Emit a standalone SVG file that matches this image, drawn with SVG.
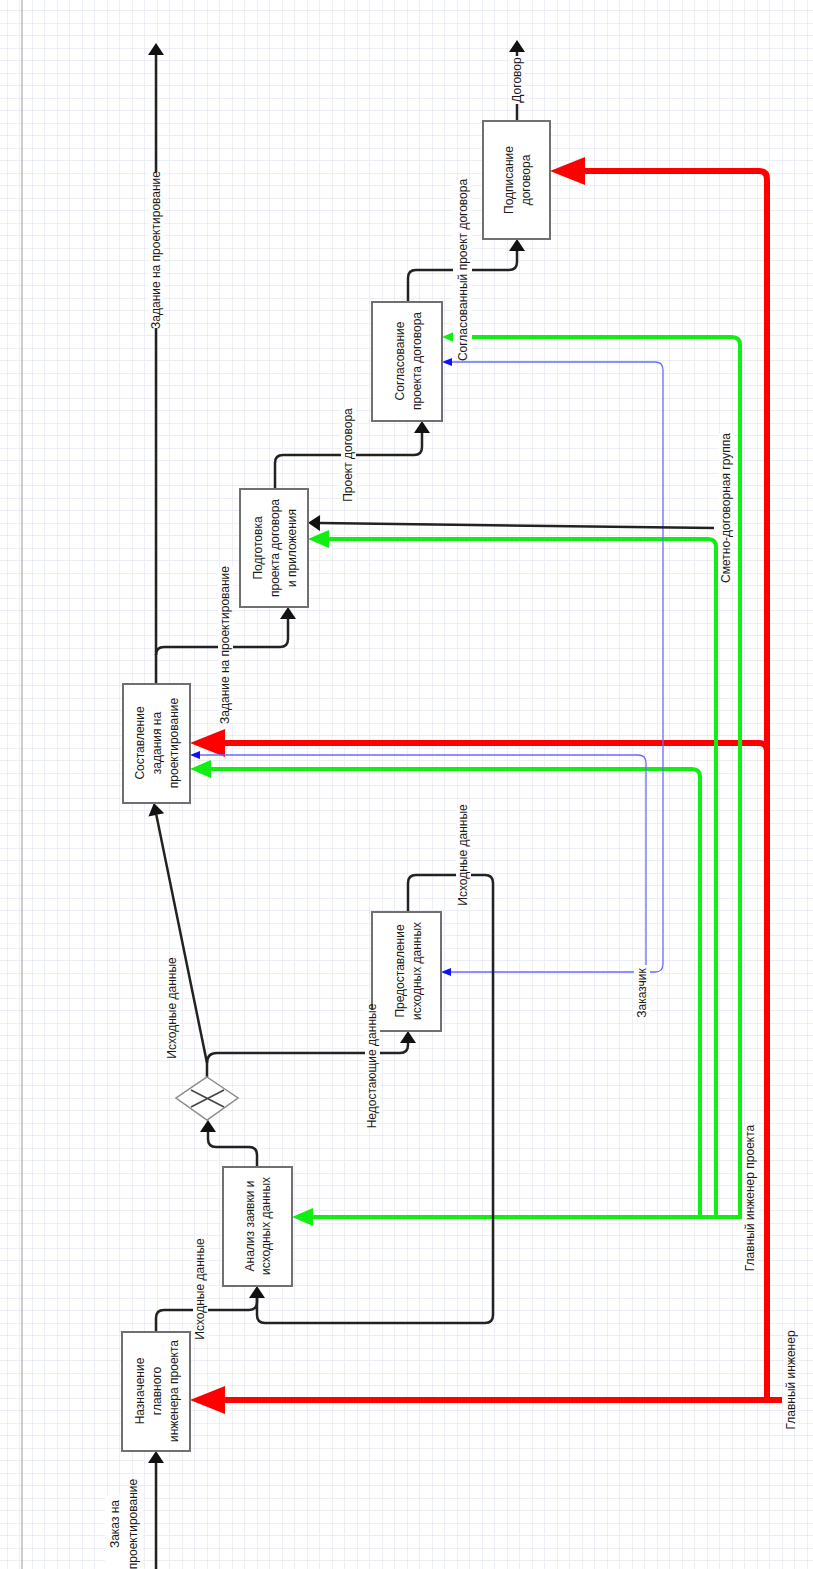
<svg xmlns="http://www.w3.org/2000/svg" width="813" height="1569" viewBox="0 0 813 1569">
<style>
.t{font-family:"Liberation Sans",Arial,sans-serif;font-size:12px;fill:#1a1a1a;text-anchor:middle;dominant-baseline:central}
.node{fill:#ffffff;stroke:#707070;stroke-width:2}
.k{fill:none;stroke:#222;stroke-width:2.5}
.r{fill:none;stroke:#ff0000;stroke-width:6}
.g{fill:none;stroke:#11ee11;stroke-width:4}
.b{fill:none;stroke:#6a6aff;stroke-width:1.3}
.bg{fill:#ffffff}
</style>
<defs>
<pattern id="grid" patternUnits="userSpaceOnUse" x="7" y="-2" width="25" height="25">
<path d="M12.5,0 V25 M0,12.5 H25" stroke="#eceef6" stroke-width="1" fill="none"/>
<path d="M0,0 V25 M0,0 H25" stroke="#dfe2ee" stroke-width="1" fill="none"/>
</pattern>
<marker id="ak" markerUnits="userSpaceOnUse" markerWidth="14" markerHeight="18" viewBox="0 -9 14 18" refX="0" refY="0" orient="auto" overflow="visible"><path d="M0,-8 L12,0 L0,8 z" fill="#111"/></marker>
<marker id="ar" markerUnits="userSpaceOnUse" markerWidth="36" markerHeight="30" viewBox="0 -15 36 30" refX="0" refY="0" orient="auto" overflow="visible"><path d="M0,-14 L35,0 L0,14 z" fill="#ff0000"/></marker>
<marker id="ag" markerUnits="userSpaceOnUse" markerWidth="22" markerHeight="20" viewBox="0 -10 22 20" refX="0" refY="0" orient="auto" overflow="visible"><path d="M0,-9 L21,0 L0,9 z" fill="#11ee11"/></marker>
<marker id="ab" markerUnits="userSpaceOnUse" markerWidth="11" markerHeight="10" viewBox="0 -5 11 10" refX="0" refY="0" orient="auto" overflow="visible"><path d="M0,-4 L10,0 L0,4 z" fill="#1010ff"/></marker>
</defs>
<rect x="0" y="0" width="813" height="1569" fill="#ffffff"/>
<rect x="0" y="0" width="813" height="1569" fill="url(#grid)"/>
<line x1="22" y1="0" x2="22" y2="1569" stroke="#9a9a9a" stroke-width="1"/>

<g id="connectors">
<path class="r" d="M767,1400 V179 Q767,171 759,171 H585" marker-end="url(#ar)"/>
<path class="r" d="M767,751 Q767,743 759,743 H225" marker-end="url(#ar)"/>
<path class="r" d="M782,1400 H225" marker-end="url(#ar)"/>
<path class="g" d="M740,1217 V345 Q740,337 732,337 H463" marker-end="url(#ag)"/>
<path class="g" d="M716,1217 V547 Q716,539 708,539 H329" marker-end="url(#ag)"/>
<path class="g" d="M700,1217 V777 Q700,769 692,769 H211" marker-end="url(#ag)"/>
<path class="g" d="M742,1217 H313" marker-end="url(#ag)"/>
<path class="b" d="M663,964 V370 Q663,362 655,362 H452" marker-end="url(#ab)"/>
<path class="b" d="M646,972 V763 Q646,755 638,755 H200" marker-end="url(#ab)"/>
<path class="b" d="M663,964 Q663,972 655,972 H451" marker-end="url(#ab)"/>
<path class="k" d="M156,1569 V1463" marker-end="url(#ak)"/>
<path class="k" d="M156,1332 V1318 Q156,1310 164,1310 H249 Q257,1310 257,1302 V1298" marker-end="url(#ak)"/>
<path class="k" d="M408,912 V883 Q408,875 416,875 H485 Q493,875 493,883 V1315 Q493,1323 485,1323 H265 Q257,1323 257,1315 V1298"/>
<path class="k" d="M257,1167 V1155 Q257,1147 249,1147 H216 Q208,1147 208,1139 V1132" marker-end="url(#ak)"/>
<path class="k" d="M207,1077 V1063 L156.3,814.8" marker-end="url(#ak)"/>
<path class="k" d="M207,1063 Q207,1053 217,1053 H400 Q408,1053 408,1045 V1043" marker-end="url(#ak)"/>
<path class="k" d="M156,684 V55" marker-end="url(#ak)"/>
<path class="k" d="M156,655 Q156,647 164,647 H280 Q288,647 288,639 V619" marker-end="url(#ak)"/>
<path class="k" d="M275,489 V463 Q275,455 283,455 H414 Q422,455 422,447 V433" marker-end="url(#ak)"/>
<path class="k" d="M408,302 V278 Q408,270 416,270 H509 Q517,270 517,262 V251" marker-end="url(#ak)"/>
<path class="k" d="M517,121 V52" marker-end="url(#ak)"/>
<path class="k" d="M714,528 L320,523" marker-end="url(#ak)"/>
</g>

<g id="n1">
<rect class="node" x="122" y="1332" width="68" height="119"/>
<text class="t" transform="translate(140,1391) rotate(-90)">Назначение</text>
<text class="t" transform="translate(157,1391) rotate(-90)">главного</text>
<text class="t" transform="translate(174,1391) rotate(-90)">инженера проекта</text>
</g>
<g id="n2">
<rect class="node" x="223" y="1167" width="69" height="119"/>
<text class="t" transform="translate(250,1226) rotate(-90)">Анализ заявки и</text>
<text class="t" transform="translate(266,1226) rotate(-90)">исходных данных</text>
</g>
<g id="gw">
<polygon points="207,1077 238,1098 207,1120 176,1098" fill="#ffffff" stroke="#8a8a8a" stroke-width="1.5"/>
<path d="M191,1090 L224,1107 M191,1107 L224,1090" stroke="#444" stroke-width="1.6" fill="none"/>
</g>
<g id="n3">
<rect class="node" x="372" y="912" width="69" height="119"/>
<text class="t" transform="translate(400,971) rotate(-90)">Предоставление</text>
<text class="t" transform="translate(417,971) rotate(-90)">исходных данных</text>
</g>
<g id="n4">
<rect class="node" x="123" y="684" width="67" height="119"/>
<text class="t" transform="translate(140,743) rotate(-90)">Составление</text>
<text class="t" transform="translate(157,743) rotate(-90)">задания на</text>
<text class="t" transform="translate(174,743) rotate(-90)">проектирование</text>
</g>
<g id="n5">
<rect class="node" x="240" y="489" width="68" height="118"/>
<text class="t" transform="translate(258,548) rotate(-90)">Подготовка</text>
<text class="t" transform="translate(275,548) rotate(-90)">проекта договора</text>
<text class="t" transform="translate(292,548) rotate(-90)">и приложения</text>
</g>
<g id="n6">
<rect class="node" x="372" y="302" width="70" height="119"/>
<text class="t" transform="translate(400,361) rotate(-90)">Согласование</text>
<text class="t" transform="translate(417,361) rotate(-90)">проекта договора</text>
</g>
<g id="n7">
<rect class="node" x="483" y="121" width="67" height="118"/>
<text class="t" transform="translate(509,180) rotate(-90)">Подписание</text>
<text class="t" transform="translate(526,180) rotate(-90)">договора</text>
</g>

<g id="labels">
<rect class="bg" x="105" y="1495" width="38" height="74"/>
<text class="t" transform="translate(115,1524) rotate(-90)">Заказ на</text>
<text class="t" transform="translate(133,1524) rotate(-90)">проектирование</text>
<rect class="bg" x="193" y="1242" width="15" height="95"/>
<text class="t" transform="translate(200,1289) rotate(-90)">Исходные данные</text>
<rect class="bg" x="165" y="961" width="15" height="95"/>
<text class="t" transform="translate(172,1008) rotate(-90)">Исходные данные</text>
<rect class="bg" x="365" y="1010" width="15" height="113"/>
<text class="t" transform="translate(372,1066) rotate(-90)">Недостающие данные</text>
<rect class="bg" x="456" y="808" width="15" height="95"/>
<text class="t" transform="translate(463,855) rotate(-90)">Исходные данные</text>
<rect class="bg" x="149" y="172" width="15" height="156"/>
<text class="t" transform="translate(156,250) rotate(-90)">Задание на проектирование</text>
<rect class="bg" x="218" y="567" width="15" height="156"/>
<text class="t" transform="translate(225,645) rotate(-90)">Задание на проектирование</text>
<rect class="bg" x="341" y="408" width="15" height="94"/>
<text class="t" transform="translate(348,455) rotate(-90)">Проект договора</text>
<rect class="bg" x="453" y="180" width="19" height="180"/>
<text class="t" transform="translate(463,270) rotate(-90)">Согласованный проект договора</text>
<rect class="bg" x="510" y="56" width="15" height="48"/>
<text class="t" transform="translate(517,80) rotate(-90)">Договор</text>
<rect class="bg" x="719" y="434" width="15" height="148"/>
<text class="t" transform="translate(726,508) rotate(-90)">Сметно-договорная группа</text>
<rect class="bg" x="634" y="965" width="16" height="56"/>
<text class="t" transform="translate(642,993) rotate(-90)">Заказчик</text>
<rect class="bg" x="743" y="1126" width="15" height="144"/>
<text class="t" transform="translate(750,1198) rotate(-90)">Главный инженер проекта</text>
<rect class="bg" x="784" y="1333" width="15" height="94"/>
<text class="t" transform="translate(791,1380) rotate(-90)">Главный инженер</text>
</g>
</svg>
